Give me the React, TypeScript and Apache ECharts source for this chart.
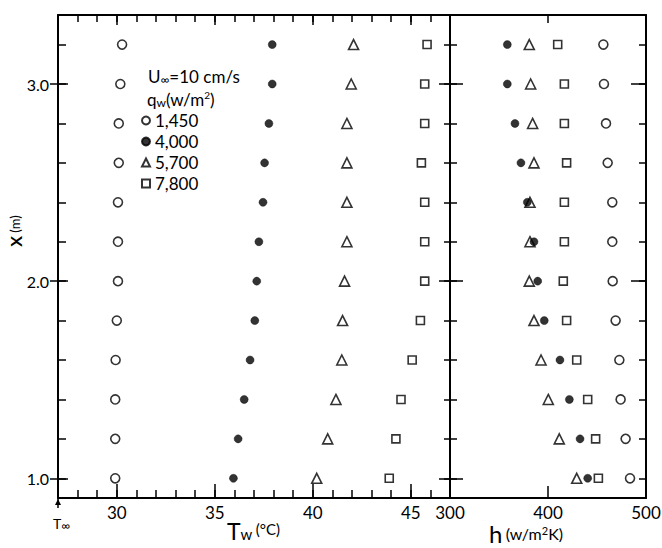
import React, { useEffect, useRef } from "react";
import * as echarts from "echarts";

const xPos = [1.0, 1.2, 1.4, 1.6, 1.8, 2.0, 2.2, 2.4, 2.6, 2.8, 3.0, 3.2];
const twOpen = [29.92, 29.92, 29.92, 29.94, 30.0, 30.06, 30.06, 30.06, 30.1, 30.1, 30.18, 30.27];
const twFilled = [35.95, 36.19, 36.5, 36.8, 37.04, 37.14, 37.25, 37.46, 37.54, 37.76, 37.93, 37.93];
const twTri = [40.2, 40.76, 41.18, 41.48, 41.52, 41.62, 41.74, 41.74, 41.74, 41.74, 41.96, 42.08];
const twSq = [43.9, 44.24, 44.5, 45.07, 45.49, 45.71, 45.71, 45.71, 45.54, 45.71, 45.71, 45.83];
const hOpen = [483.7, 479.2, 474.1, 472.8, 469, 466, 465.6, 465.6, 460.9, 459.2, 457.1, 456.5];
const hFilled = [440.5, 432.7, 421.8, 412.2, 396.2, 389.5, 385.7, 378.9, 372.4, 366.3, 358.5, 358.5];
const hTri = [429.3, 411.5, 400.3, 392.9, 385.7, 380.9, 381.6, 381.6, 385.7, 384.3, 382.3, 380.9];
const hSq = [451.4, 448.6, 440.5, 429.3, 419, 415.6, 416.7, 416.7, 419, 416.7, 416.7, 409.9];
const seriesNames = ["1,450", "4,000", "5,700", "7,800"];
const twTickLabels = [30, 35, 40, 45];
const hTickLabels = [300, 400, 500];
const xTickLabels = [1, 2, 3];

const TW_MIN = 27;
const TW_MAX = 47;
const H_MIN = 300;
const H_MAX = 500;
const X_MIN = 0.9;
const X_MAX = 3.35;

const FONT = "Lato, 'DejaVu Sans', sans-serif";
const BLACK = "#000";

export default function App() {
  const ref = useRef<HTMLDivElement>(null);
  useEffect(() => {
    if (!ref.current) return;
    const chart = echarts.init(ref.current, null, { renderer: "svg" });

    const L = 58, T = 15, W = 392, H = 483, W2 = 196;
    const yOf = (v: number) => T + ((X_MAX - v) / (X_MAX - X_MIN)) * H;
    const xOf = (t: number) => L + ((t - TW_MIN) / (TW_MAX - TW_MIN)) * W;

    const lineOn = { show: true, onZero: false, lineStyle: { color: BLACK, width: 2 } };
    const lineOff = { show: false, onZero: false };
    const noLabel = { show: false };
    const noTick = { show: false };
    const tick = (len: number, inside = true) => ({
      show: true,
      inside,
      length: len,
      lineStyle: { color: BLACK, width: 1.5 },
    });
    const labelStyle = { color: BLACK, fontSize: 17, fontFamily: FONT };
    const hiddenX = (g: number) => ({ type: "value", gridIndex: g, show: false, min: 0, max: 1, axisLine: { onZero: false } });
    const hiddenY = (g: number) => ({ type: "value", gridIndex: g, show: false, min: 0, max: 1, axisLine: { onZero: false } });
    const tickY = (g: number, pos: string, min: number, max: number, interval: number, len: number, inside = true) => ({
      type: "value",
      gridIndex: g,
      position: pos,
      min,
      max,
      interval,
      splitLine: { show: false },
      axisLine: lineOff,
      axisTick: tick(len, inside),
      axisLabel: noLabel,
    });
    const tickX = (g: number, pos: string, min: number, max: number, interval: number, len: number) => ({
      type: "value",
      gridIndex: g,
      position: pos,
      min,
      max,
      interval,
      splitLine: { show: false },
      axisLine: lineOff,
      axisTick: tick(len),
      axisLabel: noLabel,
    });
    const grid = (left: number, top: number, width: number, height: number) => ({
      left,
      top,
      width,
      height,
      containLabel: false,
      outerBoundsMode: "none",
    });

    const mk = (name: string, data: number[], xi: number, yi: number, kind: string) => {
      let symbol = "circle";
      let size = 9;
      let itemStyle: any = { color: "#fff", borderColor: BLACK, borderWidth: 1.6 };
      if (kind === "filled") {
        size = 8;
        itemStyle = { color: BLACK, borderColor: BLACK, borderWidth: 0.5 };
      } else if (kind === "tri") {
        symbol = "triangle";
        size = 10;
      } else if (kind === "sq") {
        symbol = "rect";
        size = 8;
      }
      return {
        type: "scatter",
        name,
        xAxisIndex: xi,
        yAxisIndex: yi,
        symbol,
        symbolSize: size,
        itemStyle,
        data: data.map((v, i) => [v, xPos[i]]),
      };
    };

    const txt = (size: number, extra: any = {}) => ({ fontSize: size, fill: BLACK, fontFamily: FONT, ...extra });

    const option: any = {
      animation: false,
      backgroundColor: "#fff",
      textStyle: { fontFamily: FONT },
      grid: [
        grid(L, T, W, H),
        grid(L + W, T, W2, H),
        grid(xOf(30), T, xOf(45) - xOf(30), H),
        grid(L, yOf(3.2), W, yOf(1.0) - yOf(3.2)),
        grid(L + W, yOf(3.2), W2, yOf(1.0) - yOf(3.2)),
        grid(L, yOf(3.0), W, yOf(1.0) - yOf(3.0)),
        grid(L + W, yOf(3.0), W2, yOf(1.0) - yOf(3.0)),
        grid(L + W, yOf(3.0), W2, yOf(2.0) - yOf(3.0)),
        grid(L, T, W, H),
        grid(L + W, T, W2, H),
      ],
      legend: {
        orient: "vertical",
        left: 136,
        top: 107,
        itemWidth: 8,
        itemHeight: 8,
        itemGap: 4,
        textStyle: { color: BLACK, fontSize: 17, fontFamily: FONT },
        data: seriesNames,
      },
      xAxis: [
        {
          type: "value",
          gridIndex: 0,
          position: "bottom",
          min: TW_MIN,
          max: TW_MAX,
          splitLine: { show: false },
          axisLine: lineOn,
          axisTick: noTick,
          axisLabel: { ...labelStyle, customValues: twTickLabels, margin: 6 },
        },
        {
          type: "value",
          gridIndex: 0,
          position: "top",
          min: TW_MIN,
          max: TW_MAX,
          splitLine: { show: false },
          axisLine: lineOn,
          axisTick: noTick,
          axisLabel: noLabel,
        },
        {
          type: "value",
          gridIndex: 1,
          position: "bottom",
          min: H_MIN,
          max: H_MAX,
          splitLine: { show: false },
          axisLine: lineOn,
          axisTick: noTick,
          axisLabel: { ...labelStyle, customValues: hTickLabels, margin: 6 },
        },
        {
          type: "value",
          gridIndex: 1,
          position: "top",
          min: H_MIN,
          max: H_MAX,
          splitLine: { show: false },
          axisLine: lineOn,
          axisTick: noTick,
          axisLabel: noLabel,
        },
        tickX(2, "bottom", 30, 45, 5, 14),
        tickX(2, "top", 30, 45, 5, 10),
        hiddenX(3),
        hiddenX(4),
        hiddenX(5),
        hiddenX(6),
        hiddenX(7),
        tickX(8, "bottom", TW_MIN, TW_MAX, 1, 8),
        tickX(8, "top", TW_MIN, TW_MAX, 1, 7),
        tickX(9, "bottom", H_MIN, H_MAX, 100, 12),
        tickX(9, "top", H_MIN, H_MAX, 100, 8),
      ],
      yAxis: [
        {
          type: "value",
          gridIndex: 0,
          position: "left",
          min: X_MIN,
          max: X_MAX,
          splitLine: { show: false },
          axisLine: lineOn,
          axisTick: noTick,
          axisLabel: {
            ...labelStyle,
            fontSize: 16,
            customValues: xTickLabels,
            margin: 9,
            formatter: (v: number) => v.toFixed(1),
          },
        },
        {
          type: "value",
          gridIndex: 0,
          position: "right",
          min: X_MIN,
          max: X_MAX,
          splitLine: { show: false },
          axisLine: lineOn,
          axisTick: noTick,
          axisLabel: noLabel,
        },
        {
          type: "value",
          gridIndex: 1,
          position: "right",
          min: X_MIN,
          max: X_MAX,
          splitLine: { show: false },
          axisLine: lineOn,
          axisTick: noTick,
          axisLabel: noLabel,
        },
        hiddenY(2),
        tickY(3, "left", 1.0, 3.2, 0.2, 8),
        tickY(3, "right", 1.0, 3.2, 0.2, 6),
        tickY(4, "left", 1.0, 3.2, 0.2, 7),
        tickY(4, "right", 1.0, 3.2, 0.2, 7),
        tickY(5, "left", 1, 3, 1, 10),
        tickY(5, "left", 1, 3, 1, 8, false),
        tickY(5, "right", 1, 3, 1, 11),
        tickY(6, "left", 1, 3, 1, 13),
        tickY(7, "right", 2, 3, 1, 15),
        hiddenY(8),
        hiddenY(9),
      ],
      graphic: [
        {
          type: "text",
          left: 148,
          top: 68,
          style: {
            text: "{a|U}{s|∞}{a|=10 cm/s}",
            rich: { a: txt(17), s: txt(12, { padding: [6, 0, 0, 0] }) },
          },
        },
        {
          type: "text",
          left: 147,
          top: 90,
          style: {
            text: "{a|q}{s|w}{a|(w/m}{p|2}{a|)}",
            rich: {
              a: txt(17),
              s: txt(12, { padding: [6, 0, 0, 0] }),
              p: txt(10, { padding: [0, 0, 8, 0] }),
            },
          },
        },
        {
          type: "line",
          shape: { x1: 58, y1: 499, x2: 58, y2: 508 },
          style: { stroke: BLACK, lineWidth: 1.5 },
        },
        {
          type: "polygon",
          shape: { points: [[55, 505], [61, 505], [58, 499]] },
          style: { fill: BLACK },
        },
        {
          type: "text",
          x: 53,
          y: 523,
          style: {
            text: "{a|T}{s|∞}",
            verticalAlign: "middle",
            rich: { a: txt(14), s: txt(12, { padding: [4, 0, 0, 0] }) },
          },
        },
        {
          type: "text",
          x: 227,
          y: 531,
          style: {
            text: "{t|T}{s|w} {u|(°C)}",
            verticalAlign: "middle",
            rich: {
              t: txt(23),
              s: txt(15, { padding: [6, 0, 0, 0] }),
              u: txt(15, { padding: [0, 0, 5, 0] }),
            },
          },
        },
        {
          type: "text",
          x: 489,
          y: 533,
          style: {
            text: "{t|h} {u|(w/m}{p|2}{u|K)}",
            verticalAlign: "middle",
            rich: {
              t: txt(24),
              u: txt(16),
              p: txt(11, { padding: [0, 0, 6, 0] }),
            },
          },
        },
        {
          type: "text",
          x: 15,
          y: 231,
          rotation: Math.PI / 2,
          style: {
            text: "{x|X} {u|(m)}",
            align: "center",
            verticalAlign: "middle",
            rich: {
              x: txt(16, { fontWeight: "bold" }),
              u: txt(13),
            },
          },
        },
      ],
      series: [
        mk(seriesNames[0], twOpen, 0, 0, "open"),
        mk(seriesNames[1], twFilled, 0, 0, "filled"),
        mk(seriesNames[2], twTri, 0, 0, "tri"),
        mk(seriesNames[3], twSq, 0, 0, "sq"),
        mk(seriesNames[0], hOpen, 2, 2, "open"),
        mk(seriesNames[2], hTri, 2, 2, "tri"),
        mk(seriesNames[3], hSq, 2, 2, "sq"),
        mk(seriesNames[1], hFilled, 2, 2, "filled"),
      ],
    };
    chart.setOption(option);
    return () => chart.dispose();
  }, []);
  return (
    <div
      ref={ref}
      style={{ position: "absolute", left: 0, top: 0, width: 662, height: 548, background: "#fff" }}
    />
  );
}
